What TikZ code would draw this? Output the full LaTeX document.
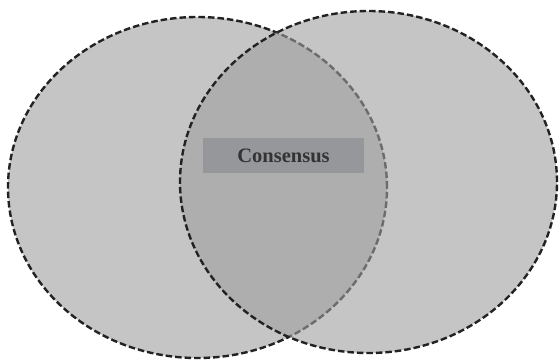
\documentclass[tikz,border=0pt]{standalone}
\usepackage{fontspec}
\setmainfont{Liberation Serif}
\usetikzlibrary{shapes.geometric}
\definecolor{ringfill}{gray}{0.62}
\definecolor{ringline}{HTML}{222222}
\definecolor{labelfill}{HTML}{96979A}
\definecolor{labeltext}{HTML}{333333}
\begin{document}
\begin{tikzpicture}[x=1pt,y=-1pt,
  ring/.style={draw=ringline,line width=2.4pt,dash pattern=on 6.5pt off 3pt,fill=ringfill,fill opacity=0.6},
  labelbox/.style={fill=labelfill,draw=none,minimum width=161pt,minimum height=35pt,inner sep=0pt,
    font=\fontsize{20.5}{24}\selectfont\bfseries,text=labeltext,text opacity=1}]
\useasboundingbox (0,0) rectangle (559,359);
\node[ring,ellipse,minimum width=379pt,minimum height=341pt,inner sep=0pt] (left) at (197.5,187.5) {};
\node[ring,ellipse,minimum width=377pt,minimum height=342pt,inner sep=0pt] (right) at (368.5,182) {};
\node[labelbox] (consensus) at (283.5,155.5) {Consensus};
\end{tikzpicture}
\end{document}
